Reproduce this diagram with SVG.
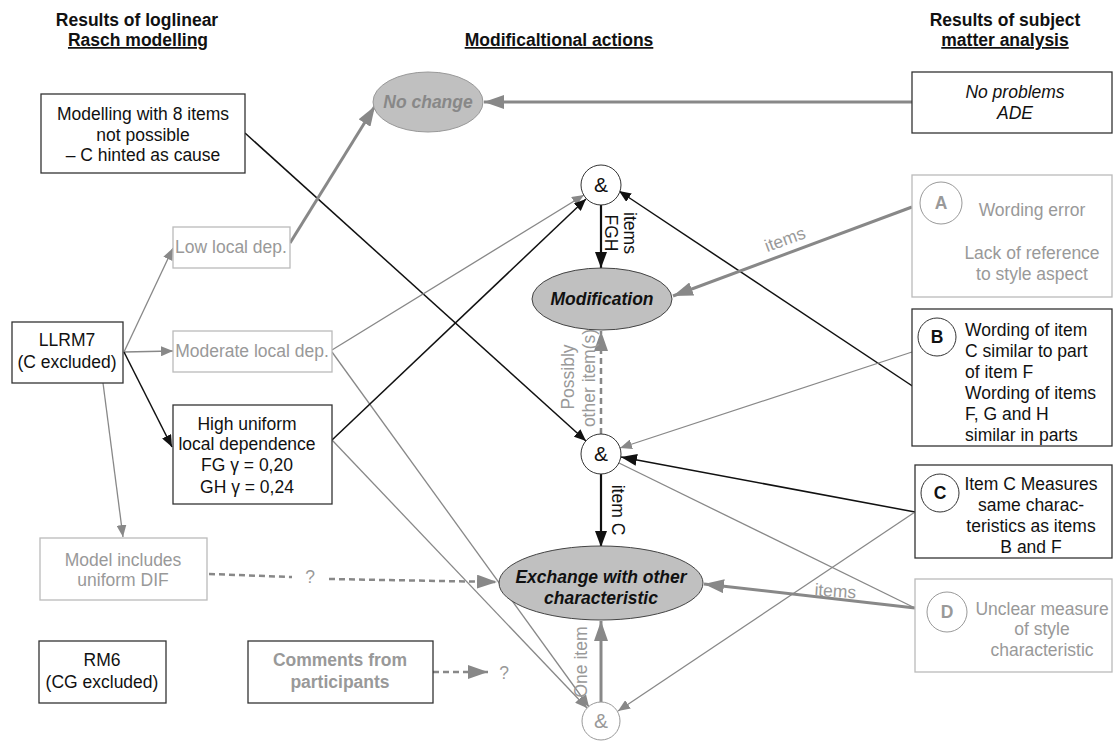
<svg xmlns="http://www.w3.org/2000/svg" width="1113" height="742" viewBox="0 0 1113 742">
<defs>
<style>
text{font-family:"Liberation Sans",Arial,sans-serif;font-size:17.5px;text-anchor:middle;fill:#111}
.h{font-weight:bold}
.u{text-decoration:underline}
.g{fill:#999}
.s{text-anchor:start}
.b{font-weight:bold}
.i{font-style:italic}
.amp{font-size:21px}
.bx{fill:#fff;stroke:#333;stroke-width:1.3}
.bxg{fill:#fff;stroke:#bbb;stroke-width:1.3}
.el{fill:#c0c0c0;stroke:#444;stroke-width:1}
.elg{fill:#c0c0c0;stroke:#999;stroke-width:1}
.ci{fill:#fff;stroke:#333;stroke-width:1}
.cig{fill:#fff;stroke:#999;stroke-width:1}
.kb{stroke:#111;stroke-width:1.5;fill:none}
.kb2{stroke:#111;stroke-width:2.2;fill:none}
.gt{stroke:#888;stroke-width:1.3;fill:none}
.gT{stroke:#888;stroke-width:3;fill:none}
.gd{stroke:#888;stroke-width:2.5;fill:none;stroke-dasharray:6,4}
</style>
<marker id="ab" markerUnits="userSpaceOnUse" markerWidth="12" markerHeight="10" refX="12" refY="5" orient="auto"><path d="M0,0 L12,5 L0,10 z" fill="#111"/></marker>
<marker id="abL" markerUnits="userSpaceOnUse" markerWidth="16" markerHeight="12" refX="16" refY="6" orient="auto"><path d="M0,0 L16,6 L0,12 z" fill="#111"/></marker>
<marker id="ag" markerUnits="userSpaceOnUse" markerWidth="12" markerHeight="10" refX="12" refY="5" orient="auto"><path d="M0,0 L12,5 L0,10 z" fill="#888"/></marker>
<marker id="agL" markerUnits="userSpaceOnUse" markerWidth="20" markerHeight="14" refX="20" refY="7" orient="auto"><path d="M0,0 L20,7 L0,14 z" fill="#888"/></marker>
</defs>
<rect width="1113" height="742" fill="#fff"/>

<g id="headers">
<text class="h" x="137" y="26">Results of loglinear</text>
<text class="h u" x="138" y="46">Rasch modelling</text>
<text class="h u" x="559" y="46">Modificaltional actions</text>
<text class="h" x="1005" y="26">Results of subject</text>
<text class="h u" x="1005" y="46">matter analysis</text>
</g>

<g id="connectors">
<line class="kb" x1="245" y1="133" x2="586" y2="441" marker-end="url(#ab)"/>
<line class="gT" x1="290" y1="243" x2="375" y2="106" marker-end="url(#agL)"/>
<line class="gT" x1="912" y1="102" x2="484" y2="102" marker-end="url(#agL)"/>
<line class="gt" x1="124" y1="352" x2="173" y2="248" marker-end="url(#ag)"/>
<line class="gt" x1="124" y1="352" x2="173" y2="351" marker-end="url(#ag)"/>
<line class="kb" x1="124" y1="352" x2="172" y2="447" marker-end="url(#ab)"/>
<line class="gt" x1="103" y1="383" x2="123" y2="537" marker-end="url(#ag)"/>
<line class="gt" x1="332" y1="350" x2="584" y2="195" marker-end="url(#ag)"/>
<line class="gt" x1="332" y1="352" x2="589" y2="707" marker-end="url(#ag)"/>
<line class="kb" x1="332" y1="440" x2="586" y2="199" marker-end="url(#ab)"/>
<line class="gt" x1="332" y1="440" x2="587" y2="708" marker-end="url(#ag)"/>
<line class="kb" x1="953" y1="413" x2="619" y2="191" marker-end="url(#ab)"/>
<line class="gt" x1="912" y1="352" x2="620" y2="448" marker-end="url(#ag)"/>
<line class="kb" x1="915" y1="512" x2="621" y2="457" marker-end="url(#abL)"/>
<line class="gt" x1="915" y1="512" x2="618" y2="711" marker-end="url(#ag)"/>
<line class="gt" x1="915" y1="608" x2="619" y2="463"/>
<line class="gT" x1="912" y1="207" x2="673" y2="296" marker-end="url(#agL)"/>
<line class="gT" x1="915" y1="608" x2="704" y2="584" marker-end="url(#agL)"/>
<line class="kb2" x1="601" y1="205" x2="601" y2="268" marker-end="url(#abL)"/>
<line class="gd" x1="601" y1="434" x2="601" y2="331" marker-end="url(#agL)"/>
<line class="kb2" x1="601" y1="474" x2="601" y2="547" marker-end="url(#abL)"/>
<line class="gT" x1="601" y1="702" x2="601" y2="621" marker-end="url(#agL)"/>
<line class="gd" x1="209" y1="574" x2="292" y2="577"/>
<text class="g" x="310" y="583">?</text>
<line class="gd" x1="329" y1="579" x2="497" y2="582" marker-end="url(#agL)"/>
<line class="gd" x1="433" y1="672" x2="488" y2="672" marker-end="url(#agL)"/>
<text class="g" x="504" y="679">?</text>
<text transform="translate(624,233) rotate(90)">items</text>
<text transform="translate(605,233) rotate(90)">FGH</text>
<text class="g" transform="translate(574,377) rotate(-90)">Possibly</text>
<text class="g" transform="translate(595,378) rotate(-90)">other item(s)</text>
<text transform="translate(612,510) rotate(90)">item C</text>
<text class="g" transform="translate(587,662) rotate(-90)">One item</text>
<text class="g" transform="translate(787,245) rotate(-20)">items</text>
<text class="g" transform="translate(835,597) rotate(4)">items</text>
</g>

<g id="n-modelling8">
<rect class="bx" x="41" y="94" width="204" height="79"/>
<text x="143" y="120">Modelling with 8 items</text>
<text x="143" y="141">not possible</text>
<text x="143" y="161">– C hinted as cause</text>
</g>
<g id="n-llrm7">
<rect class="bx" x="12" y="322" width="111" height="61"/>
<text x="67" y="346">LLRM7</text>
<text x="67" y="368">(C excluded)</text>
</g>
<g id="n-low">
<rect class="bxg" x="173" y="227" width="117" height="41"/>
<text class="g" x="231" y="253">Low local dep.</text>
</g>
<g id="n-moderate">
<rect class="bxg" x="173" y="331" width="159" height="41"/>
<text class="g" x="252" y="357">Moderate local dep.</text>
</g>
<g id="n-high">
<rect class="bx" x="173" y="405" width="159" height="99"/>
<text x="247" y="430">High uniform</text>
<text x="247" y="450">local dependence</text>
<text x="247" y="471">FG γ =  0,20</text>
<text x="247" y="493">GH γ = 0,24</text>
</g>
<g id="n-dif">
<rect class="bxg" x="40" y="538" width="167" height="62"/>
<text class="g" x="123" y="566">Model includes</text>
<text class="g" x="123" y="586">uniform DIF</text>
</g>
<g id="n-rm6">
<rect class="bx" x="39" y="641" width="127" height="62"/>
<text x="102" y="666">RM6</text>
<text x="102" y="688">(CG excluded)</text>
</g>
<g id="n-comments">
<rect class="bx" x="248" y="641" width="185" height="62"/>
<text class="g b" x="340" y="666">Comments from</text>
<text class="g b" x="340" y="688">participants</text>
</g>

<g id="n-nochange">
<ellipse class="elg" cx="428" cy="102" rx="55" ry="30"/>
<text class="b i" x="428" y="108" style="fill:#888">No change</text>
</g>
<g id="n-and1">
<circle class="ci" cx="601" cy="185" r="20"/>
<text class="amp" x="601" y="192">&amp;</text>
</g>
<g id="n-modification">
<ellipse class="el" cx="602" cy="299" rx="70" ry="31"/>
<text class="b i" x="602" y="305">Modification</text>
</g>
<g id="n-and2">
<circle class="ci" cx="601" cy="454" r="20"/>
<text class="amp" x="601" y="461">&amp;</text>
</g>
<g id="n-exchange">
<ellipse class="el" cx="601" cy="583" rx="102" ry="37"/>
<text class="b i" x="601" y="583">Exchange with other</text>
<text class="b i" x="601" y="604">characteristic</text>
</g>
<g id="n-and3">
<circle class="cig" cx="601" cy="721" r="19"/>
<text class="amp g" x="601" y="728">&amp;</text>
</g>

<g id="n-noproblems">
<rect class="bx" x="912" y="72" width="200" height="61"/>
<text class="i" x="1015" y="98">No problems</text>
<text class="i" x="1015" y="119">ADE</text>
</g>
<g id="n-A">
<rect class="bxg" x="912" y="175" width="200" height="122"/>
<circle class="cig" cx="941" cy="203" r="21"/>
<text class="b g" x="941" y="209">A</text>
<text class="g" x="1032" y="216">Wording error</text>
<text class="g" x="1032" y="259">Lack of reference</text>
<text class="g" x="1032" y="280">to style aspect</text>
</g>
<g id="n-B">
<rect class="bx" x="912" y="309" width="200" height="137"/>
<circle class="ci" cx="937" cy="337" r="19"/>
<text class="b" x="937" y="343">B</text>
<text class="s" x="965" y="336">Wording of item</text>
<text class="s" x="965" y="357">C similar to part</text>
<text class="s" x="965" y="378">of item F</text>
<text class="s" x="965" y="399">Wording of items</text>
<text class="s" x="965" y="420">F, G and H</text>
<text class="s" x="965" y="441">similar in parts</text>
</g>
<g id="n-C">
<rect class="bx" x="915" y="465" width="197" height="93"/>
<circle class="ci" cx="940" cy="493" r="19"/>
<text class="b" x="940" y="499">C</text>
<text x="1031" y="490">Item C Measures</text>
<text x="1031" y="511">same charac-</text>
<text x="1031" y="532">teristics as items</text>
<text x="1031" y="553">B and F</text>
</g>
<g id="n-D">
<rect class="bxg" x="915" y="579" width="197" height="93"/>
<circle class="cig" cx="947" cy="612" r="20"/>
<text class="b g" x="947" y="618">D</text>
<text class="g" x="1042" y="615">Unclear measure</text>
<text class="g" x="1042" y="635">of style</text>
<text class="g" x="1042" y="656">characteristic</text>
</g>
</svg>
